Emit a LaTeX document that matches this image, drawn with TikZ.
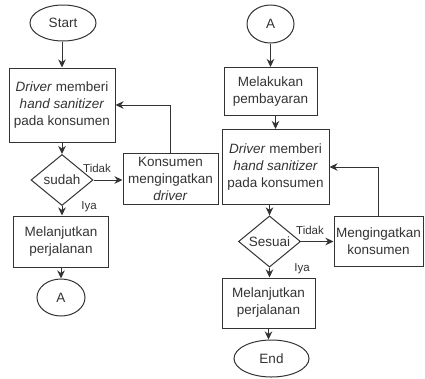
\documentclass[tikz,border=0pt]{standalone}
\usepackage{fontspec}
\setmainfont{Liberation Sans}
\usetikzlibrary{arrows.meta,shapes.geometric}
\definecolor{ink}{HTML}{333333}
\definecolor{txt}{HTML}{333333}
\tikzset{
  base/.style={draw=ink, line width=1pt, text=txt, inner sep=0pt, align=center,
    font=\fontsize{13.5}{17}\selectfont},
  procbox/.style={base, rectangle},
  termnode/.style={base, ellipse},
  decnode/.style={base, diamond},
  arr/.style={draw=ink, line width=1pt, -{Stealth[length=8pt,width=7.5pt,inset=2.5pt]}},
  lbl/.style={text=txt, inner sep=0pt, font=\fontsize{11.5}{13}\selectfont}
}
\begin{document}
\begin{tikzpicture}[x=1pt,y=-1pt]
\useasboundingbox (0,0) rectangle (425,378);
% left column
\node[termnode, minimum width=66, minimum height=36] (start) at (63,23) {Start};
\node[procbox, minimum width=106, minimum height=74] (b1) at (62,105) {\textit{Driver} memberi\\\textit{hand sanitizer}\\pada konsumen};
\node[decnode, minimum width=62, minimum height=51] (d1) at (62,180) {sudah};
\node[procbox, minimum width=95, minimum height=51] (k1) at (170.5,178.5) {Konsumen\\mengingatkan\\\textit{driver}};
\node[procbox, minimum width=95, minimum height=51] (m1) at (61,241.5) {Melanjutkan\\perjalanan};
\node[termnode, minimum width=48, minimum height=37] (a1) at (61,297.5) {A};
% right column
\node[termnode, minimum width=47, minimum height=38] (a2) at (270.5,24) {A};
\node[procbox, minimum width=93, minimum height=48] (p2) at (270.5,91.5) {Melakukan\\pembayaran};
\node[procbox, minimum width=107, minimum height=75] (b2) at (275.5,167) {\textit{Driver} memberi\\\textit{hand sanitizer}\\pada konsumen};
\node[decnode, minimum width=62, minimum height=49] (d2) at (269.5,241.5) {Sesuai};
\node[procbox, minimum width=89, minimum height=50] (k2) at (378.5,241) {Mengingatkan\\konsumen};
\node[procbox, minimum width=93, minimum height=50] (m2) at (268.5,303) {Melanjutkan\\perjalanan};
\node[termnode, minimum width=75, minimum height=37] (e2) at (271.5,358.5) {End};
% labels
\node[lbl] (t1) at (97,168) {Tidak};
\node[lbl] (i1) at (89,207) {Iya};
\node[lbl] (t2) at (310,230) {Tidak};
\node[lbl] (i2) at (302,269) {Iya};
% connectors left
\draw[arr] (b1.north |- start.south) -- (b1.north);
\draw[arr] (b1.south) -- (d1.north);
\draw[arr] (d1.east) -- (d1.east -| k1.west);
\draw[arr] (k1.north) |- (b1.east);
\draw[arr] (d1.south) -- (d1.south |- m1.north);
\draw[arr] (m1.south) -- (a1.north);
% connectors right
\draw[arr] (a2.south) -- (p2.north);
\draw[arr] (b2.north |- p2.south) -- (b2.north);
\draw[arr] (d2.north |- b2.south) -- (d2.north);
\draw[arr] (d2.east) -- (d2.east -| k2.west);
\draw[arr] (k2.north) |- (b2.east);
\draw[arr] (d2.south) -- (d2.south |- m2.north);
\draw[arr] (m2.south |- m2.south) -- (m2.south |- e2.north);
\end{tikzpicture}
\end{document}
